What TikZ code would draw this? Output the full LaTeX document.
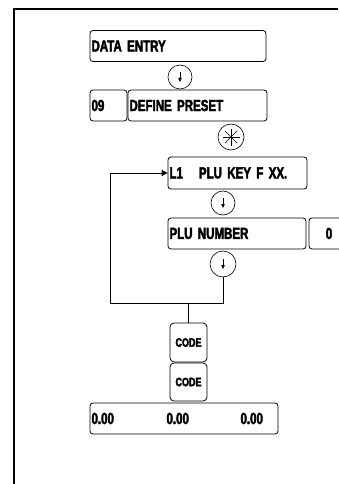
\documentclass[tikz,border=0pt]{standalone}
\usepackage{fontspec}
\setmainfont{Liberation Sans}
\newfontfamily\panelfont{Liberation Sans Bold}[FakeStretch=0.72,FakeBold=2.6]
\newfontfamily\keyfont{Liberation Sans Bold}[FakeStretch=0.75,FakeBold=3.2]
\usetikzlibrary{arrows.meta}
\tikzset{
  panel/.style={draw, rounded corners=3pt, line width=0.8pt, inner xsep=1.5pt, inner ysep=0pt,
    minimum height=31pt, align=left, font=\panelfont\fontsize{16}{18}\selectfont},
  keybox/.style={draw, rounded corners=4pt, line width=0.8pt, inner sep=0pt, minimum width=37pt,
    font=\keyfont\fontsize{12}{13}\selectfont},
  keycirc/.style={draw, circle, line width=0.6pt, inner sep=0pt, minimum size=#1},
  keycirc/.default=24pt
}
\begin{document}
\begin{tikzpicture}[x=1pt,y=-1pt]

                \useasboundingbox (0,0) rectangle (338,484);
                \draw [line width=1.2pt] (338,9)--(14,9)--(14,484);

                \node[panel, text width=173pt] (dataentry) at (178,46) {DATA ENTRY};
                \node[keycirc] (k1) at (180,77) {};
                \node[panel, text width=34pt] (num09) at (108.5,105.5) {09};
                \node[panel, text width=136pt] (define) at (197.5,105.5) {DEFINE PRESET};
                \node[keycirc=26pt] (kstar) at (231,137) {};
                \node[panel, text width=136pt, minimum height=32pt] (l1) at (237.5,173) {L1\hspace{16pt}PLU KEY F XX.};
                \node[keycirc] (k2) at (223,203) {};
                \node[panel, text width=135pt] (plunum) at (237,233.5) {PLU NUMBER};
                \node[panel, text width=37pt, align=center] (zero) at (329,233.5) {0};
                \node[keycirc=26pt] (k3) at (223,264) {};

                % cursor keys
                \foreach \k in {k1,k2,k3}
                  \draw [line width=0.6pt, -{Triangle[length=4pt,width=3.5pt]}] ([yshift=5pt]\k.center)--([yshift=-5pt]\k.center);
                \foreach \a in {0,45,90,135}
                  \draw [line width=0.7pt] ([shift=(\a:8.5pt)]kstar.center)--([shift=(\a+180:8.5pt)]kstar.center);

                % loop back
                \coordinate (loop) at (110,303);
                \draw [line width=0.8pt, -{Triangle[length=6pt,width=6pt]}] (k3.south) |- (loop) |- (l1.west);

                \node[keybox, minimum height=39pt] (code1) at (188.5,342.5) {CODE};
                \node[keybox, minimum height=38pt] (code2) at (188.5,382) {CODE};
                \draw [line width=0.8pt] (code1.north |- loop)--(code1.north);

                \node[panel, text width=185pt] (totals) at (184,418.5)
                  {\makebox[75pt][l]{0.00}\makebox[74pt][l]{0.00}0.00};

\end{tikzpicture}
\end{document}
